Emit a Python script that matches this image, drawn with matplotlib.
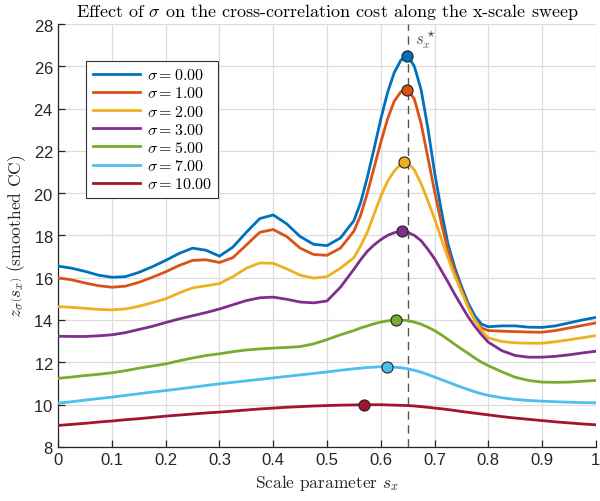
import matplotlib

matplotlib.use("Agg")
import matplotlib.pyplot as plt

plt.rcParams["mathtext.fontset"] = "cm"
plt.rcParams["axes.formatter.use_mathtext"] = True

# sample positions along the x-scale sweep
S = [0.000, 0.025, 0.050, 0.075, 0.100, 0.125, 0.150, 0.175, 0.200, 0.225,
     0.250, 0.275, 0.300, 0.325, 0.350, 0.375, 0.400, 0.425, 0.450, 0.475,
     0.500, 0.525, 0.550, 0.5625, 0.575, 0.5875, 0.600, 0.6125, 0.625, 0.6375,
     0.650, 0.6625, 0.675, 0.6875, 0.700, 0.7125, 0.725, 0.7375, 0.750, 0.7625,
     0.775, 0.7875, 0.800, 0.825, 0.850, 0.875, 0.900, 0.925, 0.950, 0.975, 1.000]

SIGMAS = [0.0, 1.0, 2.0, 3.0, 5.0, 7.0, 10.0]

z_sigma0 = [16.55, 16.45, 16.30, 16.12, 16.02, 16.05, 16.25, 16.52, 16.82, 17.15,
            17.40, 17.30, 17.02, 17.45, 18.15, 18.80, 18.97, 18.55, 17.95, 17.58,
            17.52, 17.88, 18.70, 19.55, 20.75, 22.10, 23.50, 24.75, 25.70, 26.30,
            26.50, 26.00, 24.90, 23.10, 21.00, 19.20, 17.60, 16.50, 15.60, 14.80,
            14.20, 13.80, 13.68, 13.72, 13.72, 13.66, 13.65, 13.72, 13.86, 14.00, 14.12]

z_sigma1 = [15.99, 15.90, 15.75, 15.62, 15.55, 15.60, 15.78, 16.02, 16.28, 16.58,
            16.82, 16.85, 16.72, 16.95, 17.55, 18.15, 18.28, 17.95, 17.40, 17.10,
            17.06, 17.40, 18.20, 18.95, 20.00, 21.20, 22.40, 23.50, 24.35, 24.80,
            24.90, 24.45, 23.30, 21.70, 20.10, 18.60, 17.30, 16.30, 15.45, 14.65,
            14.00, 13.62, 13.50, 13.47, 13.45, 13.43, 13.42, 13.50, 13.62, 13.74, 13.86]

z_sigma2 = [14.63, 14.60, 14.55, 14.50, 14.48, 14.52, 14.65, 14.82, 15.00, 15.28,
            15.52, 15.62, 15.72, 16.05, 16.45, 16.70, 16.68, 16.42, 16.12, 15.98,
            16.05, 16.45, 16.95, 17.50, 18.15, 19.00, 19.85, 20.55, 21.05, 21.38,
            21.45, 21.10, 20.45, 19.65, 18.80, 17.85, 16.95, 16.10, 15.35, 14.60,
            14.00, 13.50, 13.15, 12.98, 12.92, 12.90, 12.90, 12.97, 13.06, 13.16, 13.26]

z_sigma3 = [13.23, 13.22, 13.22, 13.25, 13.30, 13.40, 13.55, 13.70, 13.88, 14.05,
            14.20, 14.35, 14.52, 14.72, 14.92, 15.05, 15.08, 14.98, 14.85, 14.81,
            14.90, 15.55, 16.40, 16.85, 17.25, 17.55, 17.80, 18.00, 18.13, 18.20,
            18.15, 18.00, 17.75, 17.35, 16.90, 16.35, 15.80, 15.22, 14.68, 14.15,
            13.70, 13.30, 12.95, 12.55, 12.32, 12.24, 12.24, 12.28, 12.35, 12.44, 12.52]

z_sigma5 = [11.24, 11.30, 11.37, 11.43, 11.50, 11.60, 11.72, 11.82, 11.92, 12.07,
            12.20, 12.32, 12.40, 12.50, 12.58, 12.63, 12.67, 12.70, 12.74, 12.87,
            13.07, 13.30, 13.50, 13.62, 13.72, 13.82, 13.90, 13.96, 13.99, 14.00,
            13.97, 13.90, 13.80, 13.66, 13.50, 13.30, 13.08, 12.85, 12.63, 12.42,
            12.20, 12.00, 11.84, 11.55, 11.29, 11.14, 11.06, 11.05, 11.06, 11.10, 11.14]

z_sigma7 = [10.07, 10.13, 10.21, 10.28, 10.35, 10.43, 10.51, 10.59, 10.66, 10.74,
            10.82, 10.90, 10.98, 11.05, 11.12, 11.19, 11.26, 11.33, 11.40, 11.47,
            11.54, 11.62, 11.69, 11.72, 11.75, 11.77, 11.79, 11.79, 11.77, 11.74,
            11.69, 11.62, 11.53, 11.42, 11.30, 11.18, 11.06, 10.94, 10.82, 10.71,
            10.60, 10.51, 10.43, 10.32, 10.24, 10.19, 10.16, 10.13, 10.11, 10.09, 10.08]

z_sigma10 = [9.01, 9.06, 9.11, 9.17, 9.22, 9.28, 9.33, 9.39, 9.45, 9.50,
             9.55, 9.60, 9.64, 9.69, 9.74, 9.79, 9.83, 9.87, 9.90, 9.93,
             9.95, 9.97, 9.98, 9.99, 9.99, 9.99, 9.99, 9.98, 9.97, 9.96,
             9.95, 9.93, 9.90, 9.87, 9.83, 9.80, 9.76, 9.72, 9.67, 9.63,
             9.59, 9.55, 9.51, 9.43, 9.36, 9.30, 9.24, 9.18, 9.13, 9.08, 9.04]

# maxima of each smoothed curve
PEAK_S = [0.649, 0.649, 0.644, 0.639, 0.628, 0.612, 0.569]
PEAK_Z = [26.50, 24.90, 21.46, 18.21, 14.00, 11.78, 9.99]

S_STAR = 0.65

CURVES = [z_sigma0, z_sigma1, z_sigma2, z_sigma3, z_sigma5, z_sigma7, z_sigma10]
COLORS = ["#0072BD", "#D95319", "#EDB120", "#7E2F8E", "#77AC30", "#4DBEEE", "#A2142F"]

AX_DARK = "#262626"
GRID = "#dcdcdc"

fig = plt.figure(figsize=(6.0, 5.02), dpi=100)
ax = fig.add_axes([0.097, 0.108, 0.896, 0.842])

for sig, z, c in zip(SIGMAS, CURVES, COLORS):
    ax.plot(S, z, color=c, lw=2.0, label=rf"$\sigma = {sig:.2f}$", zorder=3,
            solid_joinstyle="round")

for ps, pz, c in zip(PEAK_S, PEAK_Z, COLORS):
    ax.plot(ps, pz, "o", ms=8, mfc=c, mec="#222222", mew=0.8, zorder=5)

ax.axvline(S_STAR, color="#555555", lw=1.0, ls=(0, (6, 4)), zorder=2)
ax.text(S_STAR + 0.013, 27.3, r"$s_x^\star$", color="#555555", fontsize=12,
        ha="left", va="center")

ax.set_xlim(0, 1)
ax.set_ylim(8, 28)
ax.set_xticks([0, 0.1, 0.2, 0.3, 0.4, 0.5, 0.6, 0.7, 0.8, 0.9, 1])
ax.set_xticklabels(["0", "0.1", "0.2", "0.3", "0.4", "0.5", "0.6", "0.7", "0.8", "0.9", "1"])
ax.set_yticks(range(8, 29, 2))

ax.grid(True, color=GRID, lw=0.9)
ax.set_axisbelow(True)
for side in ("top", "right"):
    ax.spines[side].set_visible(False)
for side in ("left", "bottom"):
    ax.spines[side].set_color(AX_DARK)
    ax.spines[side].set_linewidth(0.9)
ax.tick_params(direction="in", length=5, width=0.9, color=AX_DARK,
               labelcolor=AX_DARK, labelsize=12)
for lab in ax.get_xticklabels() + ax.get_yticklabels():
    lab.set_family("Liberation Sans")

ax.set_title(r"Effect of $\sigma$ on the cross-correlation cost along the x-scale sweep",
             fontsize=13, family="cmr10", color="black", pad=6)
ax.set_xlabel(r"Scale parameter $s_x$", fontsize=12.5, family="cmr10", color=AX_DARK)
ax.set_ylabel(r"$z_\sigma\left(s_x\right)$ (smoothed CC)", fontsize=12.5, family="cmr10",
              color=AX_DARK)

leg = ax.legend(loc="upper left", bbox_to_anchor=(0.052, 0.913), fontsize=11.5,
                handlelength=3.0, handletextpad=0.4, labelspacing=0.2,
                borderpad=0.4, borderaxespad=0, fancybox=False, framealpha=1,
                edgecolor="#333333")
leg.get_frame().set_linewidth(0.8)

fig.savefig("out.png", dpi=100, facecolor="white")
